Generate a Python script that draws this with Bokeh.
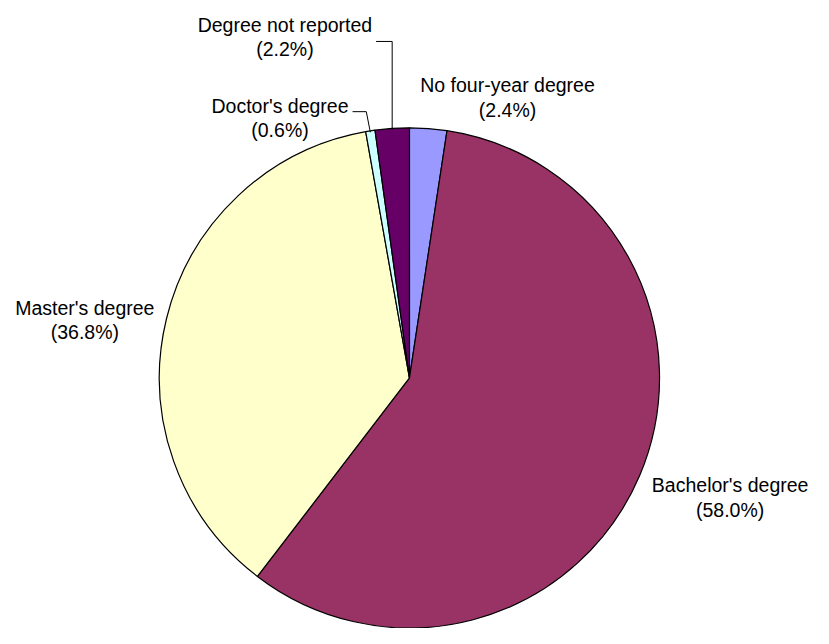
import math
from bokeh.plotting import figure
from bokeh.models import Range1d, ColumnDataSource
from bokeh.core.properties import value
from bokeh.embed import file_html
from bokeh.resources import INLINE

# ---- data ----
categories = ["No four-year degree", "Bachelor's degree", "Master's degree",
              "Doctor's degree", "Degree not reported"]
percents = [2.4, 58.0, 36.8, 0.6, 2.2]
colors = ["#9999FF", "#993366", "#FFFFCC", "#CCFFFF", "#660066"]

# ---- layout (reference-pixel based coordinates; y_data = 644 - y_ref) ----
H = 644
cx, cy, R = 417, H - 387, 255
FONT = value("Liberation Sans")
FS = "19.5px"

p = figure(width=813, height=628, output_backend="svg", toolbar_location=None,
           x_range=Range1d(0, 829), y_range=Range1d(0, 644),
           min_border=0, outline_line_color=None)
p.axis.visible = False
p.grid.visible = False
p.background_fill_color = "white"
p.border_fill_color = "white"

total = sum(percents)
starts, ends, mids = [], [], []
c = 0.0
for v in percents:
    a0 = math.pi / 2 - 2 * math.pi * c / total
    c += v
    a1 = math.pi / 2 - 2 * math.pi * c / total
    starts.append(a0)
    ends.append(a1)
    mids.append((a0 + a1) / 2)

src = ColumnDataSource(dict(start=starts, end=ends, color=colors,
                            x=[cx] * len(percents), y=[cy] * len(percents)))
p.wedge(x="x", y="y", radius=R, start_angle="start", end_angle="end",
        direction="clock", fill_color="color", line_color="black",
        line_width=1.2, source=src)

# label positions: (center x, baseline y of first line) in reference px
label_pos = [(517, 87), (744, 497), (86, 315), (285, 108), (290, 25)]
for name, v, (lx, ly) in zip(categories, percents, label_pos):
    p.text(x=[lx], y=[H - ly], text=[name], text_align="center",
           text_baseline="alphabetic", text_font=FONT, text_font_size=FS,
           text_color="black")
    p.text(x=[lx], y=[H - ly - 25], text=[f"({v:.1f}%)"], text_align="center",
           text_baseline="alphabetic", text_font=FONT, text_font_size=FS,
           text_color="black")

# leader lines for the two small slices
# Doctor's degree
i = 3
ex, ey = cx + R * math.cos(mids[i]), cy + R * math.sin(mids[i])
p.line(x=[359, 373, ex], y=[H - 114, H - 114, ey], line_color="black", line_width=1)
# Degree not reported
i = 4
ex, ey = cx + R * math.cos(mids[i]), cy + R * math.sin(mids[i])
p.line(x=[383, ex, ex], y=[H - 42, H - 42, ey], line_color="black", line_width=1)

open("out.html", "w").write(file_html(p, INLINE))
